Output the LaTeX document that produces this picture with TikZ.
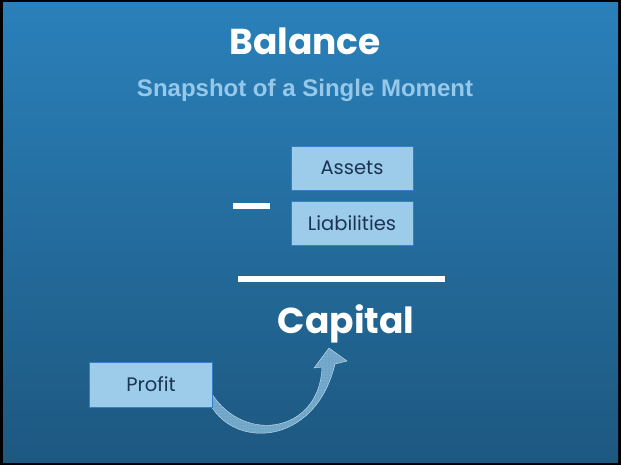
\documentclass[tikz,border=0pt]{standalone}
\usepackage{fontspec}
\setmainfont{Poppins}
\newfontfamily\subfont{Liberation Sans}
\usetikzlibrary{patterns}
\definecolor{bgtop}{RGB}{42,128,186}
\definecolor{bgbot}{RGB}{29,88,128}
\definecolor{boxfill}{RGB}{156,204,234}
\definecolor{boxline}{RGB}{52,128,200}
\definecolor{boxtext}{RGB}{28,52,84}
\definecolor{subtitle}{RGB}{150,200,234}
\definecolor{arrowfill}{RGB}{125,178,212}
\tikzset{
  itembox/.style={draw=boxline, line width=0.8pt, fill=boxfill, minimum width=122pt, minimum height=44pt, inner sep=0pt, text=boxtext, font=\fontsize{19.5}{22}\selectfont},
  bigtitle/.style={text=white, font=\fontsize{36}{40}\selectfont\bfseries, inner sep=0pt},
  bar/.style={fill=white, draw=none}
}
\begin{document}
\begin{tikzpicture}[x=1pt,y=-1pt]
\useasboundingbox (0,0) rectangle (621,465);
\fill[black] (0,0) rectangle (621,465);
\shade[top color=bgtop, bottom color=bgbot] (3,3) rectangle (618,462);
% titles
\node[bigtitle, anchor=base] (title) at (305,55) {Balance};
\node[text=subtitle, font=\subfont\fontsize{24}{26}\selectfont\bfseries, anchor=base, inner sep=0pt] (sub) at (305,97) {Snapshot of a Single Moment};
% boxes
\node[itembox] (assets) at (352,168) {Assets};
\node[itembox] (liab) at (352,223.5) {Liabilities};
\fill[bar] (233,203) rectangle (270,209);
\fill[bar] (238,276) rectangle (445,282);
\node[bigtitle, anchor=base] (capital) at (346,333) {Capital};
% curved arrow
\coordinate (tail) at (208,398);
\coordinate (tip) at (329,348);
\path[fill=arrowfill, fill opacity=0.85, draw=white!60!arrowfill, line width=0.4pt]
  (208,400) .. controls (230,450) and (315,448) .. (335,364)
  -- (347,361) -- (tip) -- (314,368) -- (322,367)
  .. controls (320,432) and (245,445) .. (212,394) -- cycle;
\path[pattern=dots, pattern color=white, opacity=0.45]
  (208,400) .. controls (230,450) and (315,448) .. (335,364)
  -- (347,361) -- (tip) -- (314,368) -- (322,367)
  .. controls (320,432) and (245,445) .. (212,394) -- cycle;
\node[itembox, minimum width=123pt, minimum height=45pt] (profit) at (151,384.5) {Profit};
\end{tikzpicture}
\end{document}
